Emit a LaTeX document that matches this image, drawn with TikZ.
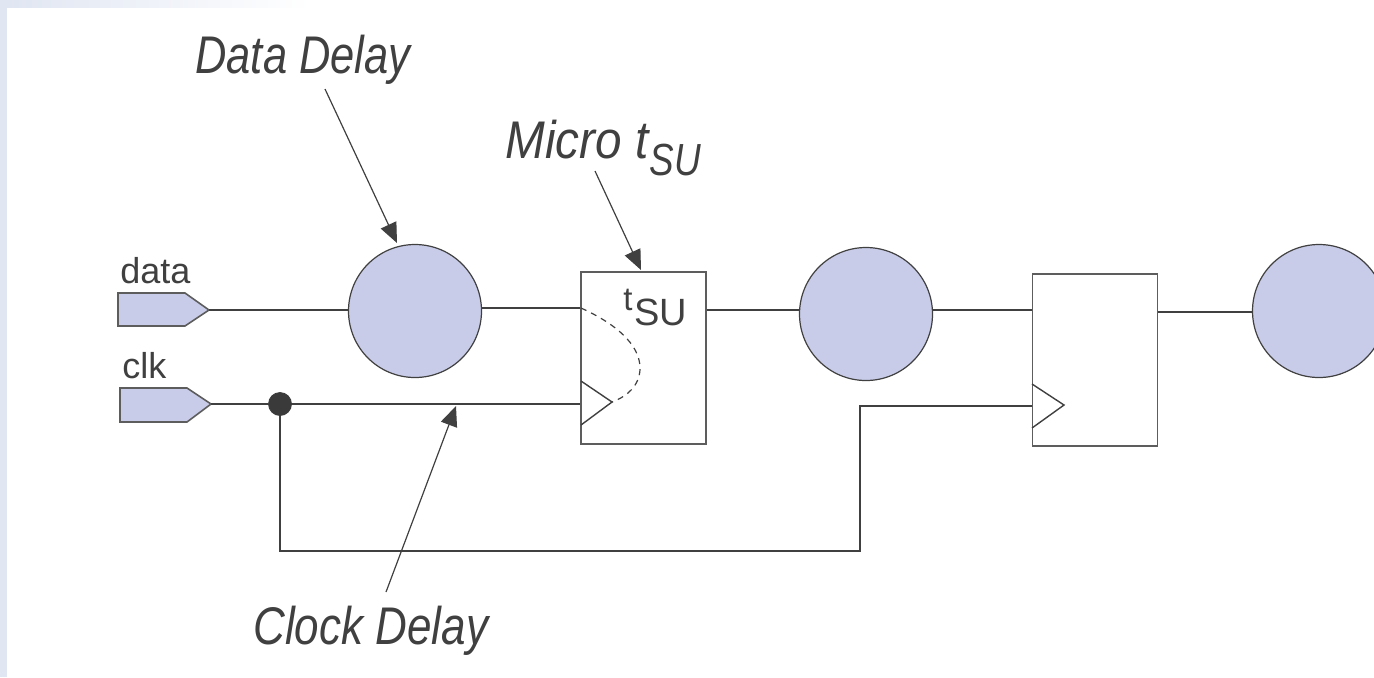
\documentclass[tikz,border=0pt]{standalone}
\usepackage{fontspec}
\setmainfont{Liberation Sans}
\newfontfamily\condfont[FakeStretch=0.82]{Liberation Sans}
\newfontfamily\clockfont[FakeStretch=0.83]{Liberation Sans}
\newfontfamily\microfont[FakeStretch=0.9]{Liberation Sans}
\usetikzlibrary{arrows.meta}
\definecolor{bluefill}{HTML}{C8CCE8}
\definecolor{inkc}{HTML}{404040}
\definecolor{framec}{HTML}{E0E6F2}
\tikzset{
  x=0.5pt,y=-0.5pt,
  wire/.style={draw=inkc,line width=0.8pt},
  ptr/.style={draw=inkc,line width=0.6pt,-{Triangle[length=10pt,width=8.5pt,fill=inkc]}},
  delaycirc/.style={circle,draw=inkc,line width=0.6pt,fill=bluefill,minimum size=66.5pt,inner sep=0pt},
  ffbox/.style={rectangle,draw=inkc!85,line width=0.9pt,fill=white,minimum width=62.5pt,minimum height=86pt,inner sep=0pt},
  dotn/.style={circle,fill=inkc!90!black,draw=inkc!90!black,minimum size=11.5pt,inner sep=0pt},
  pinlabel/.style={inner sep=0pt,text=inkc,font=\fontsize{18}{18}\selectfont,anchor=base west},
  callout/.style={inner sep=0pt,text=inkc,font=\condfont\itshape\fontsize{26.5}{26.5}\selectfont,anchor=base west},
  pinshape/.style={draw=inkc!85,line width=0.8pt,fill=bluefill},
  tick/.style={draw=inkc,line width=0.7pt}
}
\begin{document}
\begin{tikzpicture}
\useasboundingbox (0,0) rectangle (1374,677);
\fill[framec] (0,0) rectangle (7,677);
\fill[left color=framec,right color=white] (7,0) rectangle (310,7);

% delays and registers
\node[delaycirc] (d1) at (415,311) {};
\node[delaycirc] (d2) at (866,314) {};
\begin{scope}
\clip (0,0) rectangle (1374,677);
\node[delaycirc] (d3) at (1319,311) {};
\end{scope}
\node[ffbox] (ff1) at (643.5,358) {};
\node[ffbox] (ff2) at (1095,360) {};
\node[dotn] (dot) at (280,404) {};

% pins
\draw[pinshape] (118,293) -- (185,293) -- (209,310) -- (185,326) -- (118,326) -- cycle;
\draw[pinshape] (120,388) -- (187,388) -- (211,404) -- (187,422) -- (120,422) -- cycle;
\coordinate (pd) at (209,310);
\coordinate (pc) at (211,404);

% wires
\draw[wire] (pd) -- (d1.west |- pd);
\draw[wire] (d1.east |- 0,308) -- (ff1.west |- 0,308);
\draw[wire] (ff1.east |- 0,310) -- (d2.west |- 0,310);
\draw[wire] (d2.east |- 0,310) -- (ff2.west |- 0,310);
\draw[wire] (ff2.east |- 0,312) -- (d3.west |- 0,312);
\draw[wire] (pc) -- (dot) -- (ff1.west |- dot);
\coordinate (bl) at (280,551);
\coordinate (br) at (860,551);
\coordinate (tr) at (860,406);
\draw[wire] (dot) -- (bl) -- (br) -- (tr) -- (ff2.west |- tr);

% clock triangles
\draw[tick] (581,381) -- (612,402) -- (581,425);
\draw[tick] (1032,384) -- (1064,405) -- (1032,428);

% dashed setup curve
\coordinate (ds) at (581,308);
\coordinate (de) at (612,402);
\draw[inkc,line width=0.6pt,dash pattern=on 3pt off 2.6pt] (ds) .. controls (625,328) and (640,350) .. (640,368) .. controls (640,385) and (628,396) .. (de);

% labels
\node[pinlabel] (ldata) at (120,283) {data};
\node[pinlabel] (lclk) at (122,378) {clk};
\node[inner sep=0pt,text=inkc,font=\fontsize{19}{19}\selectfont,anchor=base west] (tsu) at (623,325) {\raisebox{7.5pt}{\fontsize{16.5}{16.5}\selectfont t}\hspace{1pt}SU};
\node[callout] (ldd) at (195,73) {Data Delay};
\node[callout] (lmt) at (505,158) {\microfont\itshape Micro t\raisebox{-8.5pt}{\condfont\itshape\fontsize{22.5}{22.5}\selectfont\hspace{0.5pt}SU}};
\node[callout] (lcd) at (253,644) {\clockfont\itshape Clock Delay};

% pointers
\coordinate (a1) at (325,89);
\coordinate (a2) at (595,171);
\coordinate (a3) at (386,592);
\draw[ptr] (a1) -- (397,243);
\draw[ptr] (a2) -- (641,270);
\draw[ptr] (a3) -- (456,406);
\end{tikzpicture}
\end{document}
